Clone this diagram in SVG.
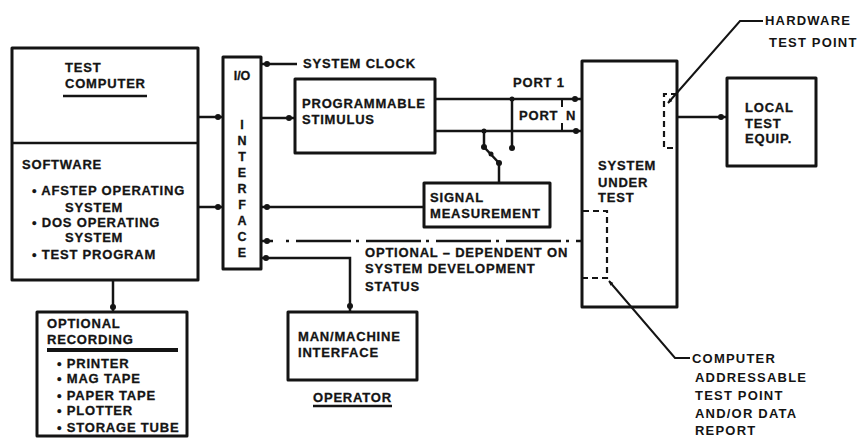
<svg xmlns="http://www.w3.org/2000/svg" width="866" height="438" viewBox="0 0 866 438">
  <defs>
    <style>
      .box { fill: none; stroke: #141414; stroke-width: 3; stroke-linejoin: round; }
      .ln { fill: none; stroke: #141414; stroke-width: 2.5; }
      .dash { fill: none; stroke: #141414; stroke-width: 2.2; stroke-dasharray: 6 4; }
      .dashdot { fill: none; stroke: #141414; stroke-width: 2.5; stroke-dasharray: 55 5 3 7; stroke-dashoffset: 60; }
      .dot { fill: #141414; }
      text { font-family: "Liberation Sans", Arial, sans-serif; font-weight: 700; font-size: 13px; letter-spacing: 0.8px; fill: #141414; stroke: #141414; stroke-width: 0.3px; }
      .sm { font-size: 12.5px; letter-spacing: 0; }
      .note { font-size: 13px; letter-spacing: 1.2px; stroke-width: 0; }
    </style>
    <marker id="arrow" viewBox="0 0 10 10" refX="9" refY="5" markerWidth="5" markerHeight="5" orient="auto" markerUnits="userSpaceOnUse">
      <path d="M0,1 L10,5 L0,9 z" fill="#141414"/>
    </marker>
  </defs>
  <rect width="866" height="438" fill="#ffffff"/>

  <!-- Test computer with software list -->
  <g id="test-computer">
    <rect class="box" x="12" y="48" width="186" height="232"/>
    <line class="ln" x1="12" y1="143" x2="198" y2="143"/>
    <text x="65" y="72">TEST</text>
    <text x="65" y="88">COMPUTER</text>
    <line class="ln" x1="63" y1="96" x2="147" y2="96"/>
    <text x="22" y="169">SOFTWARE</text>
    <text x="32" y="195">• AFSTEP OPERATING</text>
    <text x="65" y="212">SYSTEM</text>
    <text x="32" y="227">• DOS OPERATING</text>
    <text x="65" y="242">SYSTEM</text>
    <text x="32" y="259">• TEST PROGRAM</text>
  </g>

  <!-- I/O interface -->
  <g id="io-interface">
    <rect class="box" x="223" y="57" width="38" height="212"/>
    <text class="sm" x="242" y="80" text-anchor="middle">I/O</text>
    <text class="sm" x="242" y="129" text-anchor="middle">I</text>
    <text class="sm" x="242" y="145" text-anchor="middle">N</text>
    <text class="sm" x="242" y="161" text-anchor="middle">T</text>
    <text class="sm" x="242" y="177" text-anchor="middle">E</text>
    <text class="sm" x="242" y="193" text-anchor="middle">R</text>
    <text class="sm" x="242" y="209" text-anchor="middle">F</text>
    <text class="sm" x="242" y="225" text-anchor="middle">A</text>
    <text class="sm" x="242" y="241" text-anchor="middle">C</text>
    <text class="sm" x="242" y="257" text-anchor="middle">E</text>
  </g>

  <!-- Programmable stimulus -->
  <g id="stimulus">
    <rect class="box" x="295" y="79" width="140" height="74"/>
    <text x="302" y="108">PROGRAMMABLE</text>
    <text x="302" y="124">STIMULUS</text>
  </g>

  <!-- Signal measurement -->
  <g id="signal-measurement">
    <rect class="box" x="424" y="183" width="126" height="44"/>
    <text x="430" y="202">SIGNAL</text>
    <text x="430" y="218">MEASUREMENT</text>
  </g>

  <!-- System under test with test point brackets -->
  <g id="system-under-test">
    <rect class="box" x="582" y="61" width="95" height="246"/>
    <text x="598" y="170">SYSTEM</text>
    <text x="598" y="187">UNDER</text>
    <text x="598" y="202">TEST</text>
    <polyline class="dash" points="677,94 664,94 664,148 677,148"/>
    <polyline class="dash" points="583,211 607,211 607,278 583,278"/>
  </g>

  <!-- Local test equipment -->
  <g id="local-test-equip">
    <rect class="box" x="727" y="78" width="89" height="88"/>
    <text x="745" y="112">LOCAL</text>
    <text x="745" y="128">TEST</text>
    <text x="745" y="143">EQUIP.</text>
  </g>

  <!-- Optional recording -->
  <g id="optional-recording">
    <rect class="box" x="37" y="312" width="150" height="124"/>
    <text x="47" y="328">OPTIONAL</text>
    <text x="47" y="344">RECORDING</text>
    <line x1="47" y1="350" x2="178" y2="350" stroke="#141414" stroke-width="4"/>
    <text x="57" y="368">• PRINTER</text>
    <text x="57" y="383">• MAG TAPE</text>
    <text x="57" y="400">• PAPER TAPE</text>
    <text x="57" y="415">• PLOTTER</text>
    <text x="57" y="432">• STORAGE TUBE</text>
  </g>

  <!-- Man/machine interface -->
  <g id="man-machine">
    <rect class="box" x="288" y="312" width="129" height="68"/>
    <text x="298" y="341">MAN/MACHINE</text>
    <text x="298" y="357">INTERFACE</text>
    <text x="313" y="402">OPERATOR</text>
    <line class="ln" x1="313" y1="406" x2="392" y2="406"/>
  </g>

  <!-- Free labels -->
  <g id="labels">
    <text x="303" y="68">SYSTEM CLOCK</text>
    <text x="513" y="87">PORT  1</text>
    <text x="519" y="120">PORT</text>
    <text x="566" y="120">N</text>
    <text x="365" y="257">OPTIONAL – DEPENDENT ON</text>
    <text x="365" y="273">SYSTEM DEVELOPMENT</text>
    <text x="365" y="291">STATUS</text>
    <text class="note" x="765" y="25">HARDWARE</text>
    <text class="note" x="769" y="47">TEST POINT</text>
    <text class="note" x="692" y="363">COMPUTER</text>
    <text class="note" x="695" y="382">ADDRESSABLE</text>
    <text class="note" x="695" y="400">TEST POINT</text>
    <text class="note" x="695" y="418">AND/OR DATA</text>
    <text class="note" x="695" y="435">REPORT</text>
  </g>

  <!-- Connectors -->
  <g id="connectors">
    <!-- test computer to I/O -->
    <line class="ln" x1="198" y1="117" x2="223" y2="117"/>
    <circle class="dot" cx="218" cy="117" r="3"/>
    <line class="ln" x1="198" y1="207" x2="223" y2="207"/>
    <circle class="dot" cx="218" cy="207" r="3"/>
    <!-- test computer to optional recording -->
    <line class="ln" x1="113" y1="280" x2="113" y2="312"/>
    <circle class="dot" cx="113" cy="307" r="3"/>
    <!-- system clock -->
    <line class="ln" x1="261" y1="64" x2="297" y2="64"/>
    <circle class="dot" cx="267" cy="64" r="3"/>
    <!-- I/O to stimulus -->
    <line class="ln" x1="261" y1="118" x2="295" y2="118"/>
    <circle class="dot" cx="289" cy="118" r="3"/>
    <!-- ports to system under test -->
    <line class="ln" x1="435" y1="99" x2="582" y2="99"/>
    <line class="ln" x1="435" y1="131" x2="582" y2="131"/>
    <circle class="dot" cx="575" cy="99" r="3"/>
    <circle class="dot" cx="576" cy="131" r="3"/>
    <line class="ln" x1="512" y1="99" x2="512" y2="148"/>
    <circle class="dot" cx="512" cy="99" r="2.5"/>
    <circle class="dot" cx="512" cy="148" r="3"/>
    <line x1="562" y1="100" x2="562" y2="131" stroke="#141414" stroke-width="2" stroke-dasharray="7 16"/>
    <!-- switch to signal measurement -->
    <line class="ln" x1="484" y1="131" x2="484" y2="147"/>
    <circle class="dot" cx="484" cy="131" r="2.5"/>
    <circle class="dot" cx="484" cy="147" r="3"/>
    <line class="ln" x1="484" y1="147" x2="499" y2="163"/>
    <circle class="dot" cx="491" cy="154" r="2.5"/>
    <circle class="dot" cx="499" cy="163" r="3"/>
    <line class="ln" x1="499" y1="163" x2="499" y2="183"/>
    <!-- I/O to signal measurement -->
    <line class="ln" x1="261" y1="207" x2="424" y2="207"/>
    <circle class="dot" cx="267" cy="207" r="3"/>
    <!-- optional link to system under test -->
    <line class="ln" x1="261" y1="241" x2="273" y2="241"/>
    <circle class="dot" cx="267" cy="241" r="3"/>
    <line class="dashdot" x1="286" y1="241" x2="582" y2="241"/>
    <!-- I/O to man/machine interface -->
    <polyline class="ln" points="261,258 350,258 350,312"/>
    <circle class="dot" cx="266" cy="258" r="3"/>
    <circle class="dot" cx="350" cy="306" r="3"/>
    <!-- system under test to local test equipment -->
    <line class="ln" x1="677" y1="117" x2="727" y2="117"/>
    <circle class="dot" cx="721" cy="117" r="3"/>
    <!-- leaders -->
    <polyline points="763,21 740,21 668,103" fill="none" stroke="#141414" stroke-width="2" marker-end="url(#arrow)"/>
    <polyline points="690,358 675,358 609,281" fill="none" stroke="#141414" stroke-width="2" marker-end="url(#arrow)"/>
  </g>
</svg>
